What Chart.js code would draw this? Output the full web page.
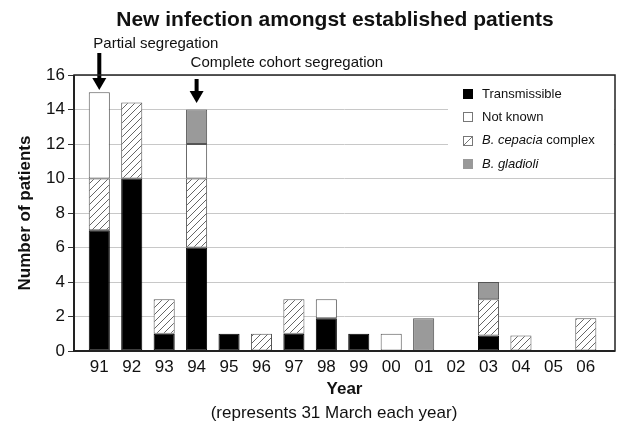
<!DOCTYPE html>
<html lang="en">
<head>
  <meta charset="UTF-8">
  <title>New infection amongst established patients</title>
  <script src="https://cdn.jsdelivr.net/npm/chart.js"></script>
  <style>
    html, body { margin: 0; padding: 0; background: #fff; }
    #wrap { width: 621px; height: 428px; }
  </style>
</head>
<body>
  <div id="wrap"><canvas id="infChart" width="621" height="428"></canvas></div>

  <script>
    // year labels (31 March of each year)
    const years = ['91', '92', '93', '94', '95', '96', '97', '98', '99', '00', '01', '02', '03', '04', '05', '06'];

    // patients per year, by organism group
    const transmissible = [7, 10, 1, 6, 1, 0, 1, 1.9, 1, 0, 0, 0, 0.9, 0, 0, 0];
    const cepacia       = [3, 4.4, 2, 4, 0, 1, 2, 0, 0, 0, 0, 0, 2.1, 0.9, 0, 1.9];
    const notKnown      = [5, 0, 0, 2, 0, 0, 0, 1.1, 0, 1, 0, 0, 0, 0, 0, 0];
    const gladioli      = [0, 0, 0, 2, 0, 0, 0, 0, 0, 0, 1.9, 0, 1, 0, 0, 0];

    const yTicks = [0, 2, 4, 6, 8, 10, 12, 14, 16];

    // arrows over the bars
    const notes = [
      { text: 'Partial segregation', year: '91' },
      { text: 'Complete cohort segregation', year: '94' }
    ];

    const FONT = "'Liberation Sans', Arial, sans-serif";
    const INK = '#111';

    // diagonal hatch for B. cepacia complex
    function makeHatch() {
      const c = document.createElement('canvas');
      c.width = 7; c.height = 7;
      const g = c.getContext('2d');
      g.fillStyle = '#fff';
      g.fillRect(0, 0, 7, 7);
      g.strokeStyle = '#666';
      g.lineWidth = 1;
      g.beginPath();
      g.moveTo(0, 7); g.lineTo(7, 0);
      g.moveTo(-1, 1); g.lineTo(1, -1);
      g.moveTo(6, 8); g.lineTo(8, 6);
      g.stroke();
      return g.createPattern(c, 'repeat');
    }
    const hatch = makeHatch();

    const toPoints = arr => arr.map((v, i) => ({ x: i, y: v || null }));

    const extras = {
      id: 'extras',
      afterDraw(chart) {
        const { ctx, chartArea: ca, scales } = chart;
        ctx.save();

        // main title
        ctx.fillStyle = INK;
        ctx.textAlign = 'center';
        ctx.textBaseline = 'middle';
        ctx.font = 'bold 21px ' + FONT;
        ctx.fillText('New infection amongst established patients', 335, 20);

        // subtitle under the x axis
        ctx.font = '17px ' + FONT;
        ctx.fillText('(represents 31 March each year)', 334, 413);

        // annotations with arrows
        ctx.textAlign = 'left';
        ctx.font = '15px ' + FONT;
        const arrowTops = [53, 79];
        const arrowTips = [90, 103];
        const textY = [44, 63];
        notes.forEach((n, k) => {
          const x = scales.x.getPixelForValue(years.indexOf(n.year));
          ctx.fillStyle = INK;
          ctx.fillText(n.text, x - 6, textY[k]);
          const tip = arrowTips[k];
          ctx.fillStyle = '#000';
          ctx.fillRect(x - 2, arrowTops[k], 4, tip - arrowTops[k] - 10);
          ctx.beginPath();
          ctx.moveTo(x - 7, tip - 12);
          ctx.lineTo(x + 7, tip - 12);
          ctx.lineTo(x, tip);
          ctx.closePath();
          ctx.fill();
        });

        // legend box (covers the gridlines behind it)
        const lx = ca.right - 167, ly = ca.top + 1;
        ctx.fillStyle = '#fff';
        ctx.fillRect(lx, ly, 166, 99);
        const rows = [
          { parts: [['Transmissible', false]], fill: '#000', stroke: '#000' },
          { parts: [['Not known', false]], fill: '#fff', stroke: '#777' },
          { parts: [['B. cepacia', true], [' complex', false]], fill: 'hatch', stroke: '#777' },
          { parts: [['B. gladioli', true]], fill: '#999', stroke: '#999' }
        ];
        ctx.textBaseline = 'middle';
        rows.forEach((r, k) => {
          const cy = 94 + k * 23.4;
          const sx = 463, sy = Math.round(cy - 5);
          ctx.fillStyle = r.fill === 'hatch' ? '#fff' : r.fill;
          ctx.fillRect(sx, sy, 10, 10);
          ctx.strokeStyle = r.stroke;
          ctx.lineWidth = 1;
          ctx.strokeRect(sx + 0.5, sy + 0.5, 9, 9);
          if (r.fill === 'hatch') {
            ctx.beginPath();
            ctx.moveTo(sx + 1, sy + 9);
            ctx.lineTo(sx + 9, sy + 1);
            ctx.stroke();
          }
          let tx = 482;
          ctx.fillStyle = INK;
          r.parts.forEach(([t, it]) => {
            ctx.font = (it ? 'italic ' : '') + '13px ' + FONT;
            ctx.fillText(t, tx, cy);
            tx += ctx.measureText(t).width;
          });
        });

        // plot frame
        ctx.strokeStyle = '#222';
        ctx.lineWidth = 1.5;
        ctx.strokeRect(ca.left, ca.top, ca.right - ca.left, ca.bottom - ca.top);
        ctx.lineWidth = 2;
        ctx.beginPath();
        ctx.moveTo(ca.left, ca.top);
        ctx.lineTo(ca.left, ca.bottom);
        ctx.lineTo(ca.right, ca.bottom);
        ctx.stroke();

        ctx.restore();
      }
    };

    const barStyle = { borderWidth: 1, borderSkipped: false, barPercentage: 0.65, categoryPercentage: 1 };

    new Chart(document.getElementById('infChart'), {
      type: 'bar',
      data: {
        datasets: [
          Object.assign({ label: 'Transmissible', data: toPoints(transmissible), backgroundColor: '#000', borderColor: '#000' }, barStyle),
          Object.assign({ label: 'B. cepacia complex', data: toPoints(cepacia), backgroundColor: hatch, borderColor: '#555' }, barStyle),
          Object.assign({ label: 'Not known', data: toPoints(notKnown), backgroundColor: '#fff', borderColor: '#555' }, barStyle),
          Object.assign({ label: 'B. gladioli', data: toPoints(gladioli), backgroundColor: '#9a9a9a', borderColor: '#555' }, barStyle)
        ]
      },
      options: {
        responsive: false,
        devicePixelRatio: 1,
        animation: false,
        layout: { padding: { top: 75, right: 6, bottom: 0, left: 0 } },
        plugins: {
          legend: { display: false },
          tooltip: { enabled: false }
        },
        scales: {
          x: {
            type: 'linear',
            stacked: true,
            offset: false,
            min: -0.78,
            max: 15.9,
            afterBuildTicks: s => { s.ticks = years.map((y, i) => ({ value: i })); },
            afterFit: s => { s.height = 77; },
            grid: { display: false, drawTicks: false, offset: false },
            border: { display: false },
            ticks: {
              callback: v => years[v],
              autoSkip: false,
              maxRotation: 0,
              padding: 6,
              color: INK,
              font: { family: FONT, size: 17 }
            },
            title: {
              display: true,
              text: 'Year',
              color: INK,
              font: { family: FONT, size: 17, weight: 'bold' },
              padding: { top: 0, bottom: 28 }
            }
          },
          y: {
            stacked: true,
            min: 0,
            max: 16,
            afterBuildTicks: s => { s.ticks = yTicks.map(v => ({ value: v })); },
            afterFit: s => { s.width = 74; },
            grid: { color: '#c8c8c8', lineWidth: 1, tickColor: '#333', tickLength: 6 },
            border: { display: false },
            ticks: {
              padding: 3,
              color: INK,
              font: { family: FONT, size: 17 }
            },
            title: {
              display: true,
              text: 'Number of patients',
              color: INK,
              font: { family: FONT, size: 17, weight: 'bold' },
              padding: { top: 15, bottom: 0 }
            }
          }
        }
      },
      plugins: [extras]
    });
  </script>
</body>
</html>
